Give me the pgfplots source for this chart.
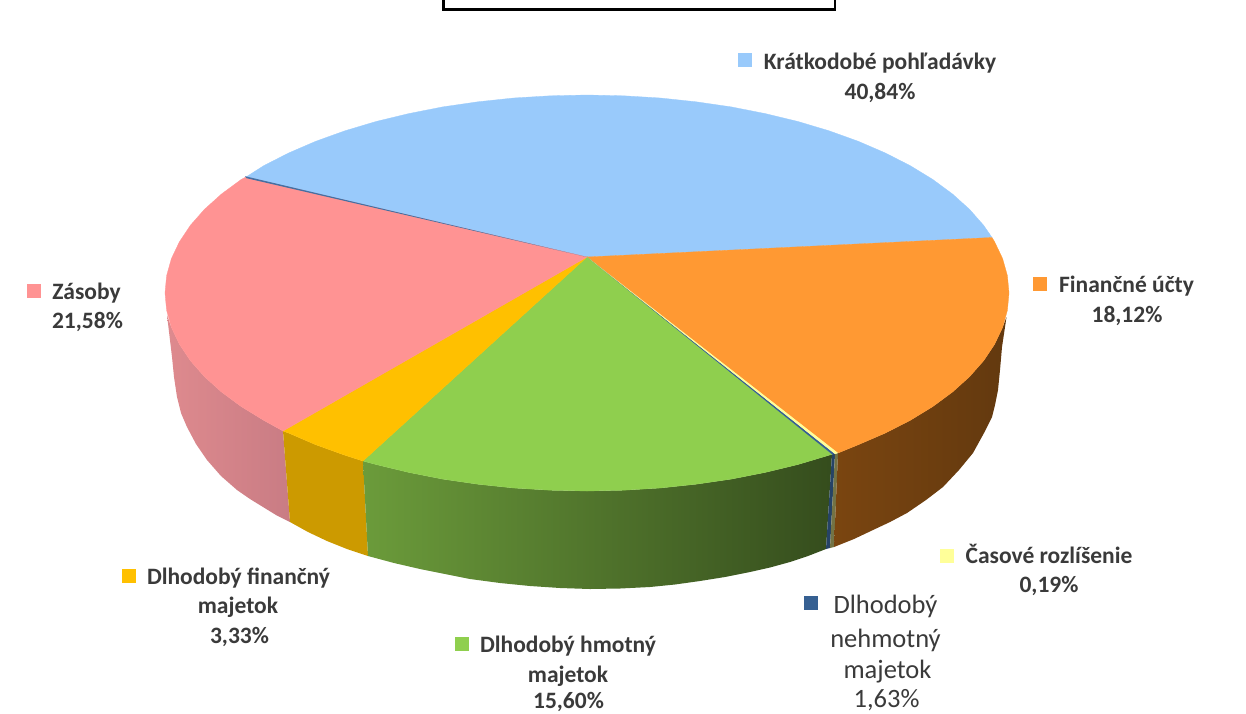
\documentclass[border=0pt]{standalone}
\usepackage{fontspec}
\setmainfont{Carlito}
\usepackage{pgfplots}
\pgfplotsset{compat=1.18}

\definecolor{cBlue}{HTML}{99CAFB}
\definecolor{cOrange}{HTML}{FF9933}
\definecolor{cPink}{HTML}{FF9393}
\definecolor{cGold}{HTML}{FFC000}
\definecolor{cGreen}{HTML}{8FCF4E}
\definecolor{cNavy}{HTML}{366092}
\definecolor{cYellow}{HTML}{FFFF99}
\definecolor{cText}{HTML}{3A3A3A}
\definecolor{sPinkL}{HTML}{DE8A8E}
\definecolor{sPinkR}{HTML}{C97C84}
\definecolor{sBrownL}{HTML}{7A4510}
\definecolor{sBrownR}{HTML}{63390F}

\tikzset{
  lab/.style={anchor=base, inner sep=0pt, text=cText, font=\fontsize{23.5}{24}\selectfont\bfseries},
  labr/.style={anchor=base, inner sep=0pt, text=cText, font=\fontsize{26.5}{27}\selectfont},
}

\begin{document}
\begin{tikzpicture}
\path[use as bounding box] (0,0) rectangle (1246pt,713pt);
\begin{axis}[
    at={(0,0)}, anchor=south west,
    scale only axis,
    width=1246pt, height=713pt,
    xmin=0, xmax=1246, ymin=0, ymax=713,
    y dir=reverse,
    hide axis,
]

% box of the title, cut by the top edge
\addplot[black, line width=2.6pt] coordinates {(443.5,-5) (443.5,9.5) (835,9.5) (835,-5)};

% side walls
\addplot[draw=none, left color=sPinkL, right color=sPinkR] coordinates {
  (167,315) (171.4,327.4) (179.4,344.2) (190.4,360.7) (204.5,376.7) (221.5,392) (241.3,406.6)
  (263.7,420.3) (283,431) (290,522) (276,515) (263,507) (250,499) (237,490) (221,476) (207,460)
  (196,444) (187,427) (181,413) (177,397) (174,377) (172,357)} -- cycle;
\addplot[fill=cGold!80!black, draw=none] coordinates {
  (283,431) (288.6,433) (315.7,444.7) (344.9,455.2) (363,461) (368,556) (347,549) (327,541) (308,532) (290,522)} -- cycle;
\addplot[draw=none, left color=cGreen!75!black, right color=cGreen!37!black] coordinates {
  (832,454.3) (829.1,455.2) (798,464.5) (765.3,472.4) (731.3,479.1) (696.2,484.2) (660.3,488) (623.8,490.2)
  (587,491) (550.2,490.2) (513.7,488) (477.8,484.2) (442.7,479.1) (408.7,472.4) (376,464.5) (363,461)
  (368,556) (394,563) (420,569) (445,574) (470,579) (500,583) (530,586) (560,588) (590,589) (620,588.5)
  (650,587) (675,584.5) (700,581) (725,577) (750,572) (770,567.5) (790,562) (808,556) (826,549)} -- cycle;
\addplot[fill=cNavy!70!black, draw=none] coordinates {(832,454.3) (835,454) (830,548) (826,549)} -- cycle;
\addplot[fill=cYellow!45!black, draw=none] coordinates {(835,454) (838,453) (834,547) (830,548)} -- cycle;
\addplot[draw=none, left color=sBrownL, right color=sBrownR] coordinates {
  (838,453) (858.3,444.7) (885.4,433) (910.3,420.3) (932.7,406.6) (952.5,392) (969.5,376.7) (983.6,360.7)
  (994.6,344.2) (1002.6,327.4) (1006.5,317) (1002,347) (1000,370) (998,390) (995,405) (992,417) (984,433)
  (973,453) (959,470) (943,487) (926,500) (907,513) (890,522) (873,530) (854,539) (834,547)} -- cycle;

% top faces
\addplot[fill=cBlue, draw=cBlue, line width=0.3pt] coordinates {
  (587,257) (246,177) (263.7,165.7) (288.6,153) (315.7,141.3) (344.9,130.8) (376,121.5) (408.7,113.6)
  (442.7,106.9) (477.8,101.8) (513.7,98) (550.2,95.8) (587,95) (623.8,95.8) (660.3,98) (696.2,101.8)
  (731.3,106.9) (765.3,113.6) (798,121.5) (829.1,130.8) (858.3,141.3) (885.4,153) (910.3,165.7)
  (932.7,179.4) (952.5,194) (969.5,209.3) (983.6,225.3) (992,237.5)} -- cycle;
\addplot[fill=cOrange, draw=cOrange, line width=0.3pt] coordinates {
  (587,257) (992,237.5) (994.6,241.8) (1002.6,258.6) (1007.4,275.7) (1009,293) (1007.4,310.3) (1002.6,327.4)
  (994.6,344.2) (983.6,360.7) (969.5,376.7) (952.5,392) (932.7,406.6) (910.3,420.3) (885.4,433)
  (858.3,444.7) (838,453)} -- cycle;
\addplot[fill=cGreen, draw=cGreen, line width=0.3pt] coordinates {
  (587,257) (832,454.3) (829.1,455.2) (798,464.5) (765.3,472.4) (731.3,479.1) (696.2,484.2) (660.3,488)
  (623.8,490.2) (587,491) (550.2,490.2) (513.7,488) (477.8,484.2) (442.7,479.1) (408.7,472.4) (376,464.5)
  (363,461)} -- cycle;
\addplot[fill=cGold, draw=cGold, line width=0.3pt] coordinates {
  (587,257) (363,461) (344.9,455.2) (315.7,444.7) (288.6,433) (283,431)} -- cycle;
\addplot[fill=cPink, draw=cPink, line width=0.3pt] coordinates {
  (587,257) (283,431) (263.7,420.3) (241.3,406.6) (221.5,392) (204.5,376.7) (190.4,360.7) (179.4,344.2)
  (171.4,327.4) (166.6,310.3) (165,293) (166.6,275.7) (171.4,258.6) (179.4,241.8) (190.4,225.3)
  (204.5,209.3) (221.5,194) (241.3,179.4) (246,177)} -- cycle;
\addplot[fill=cNavy, draw=none] coordinates {(587,257) (832,454.3) (835,454)} -- cycle;
\addplot[fill=cYellow, draw=none] coordinates {(587,257) (835,454) (838,453)} -- cycle;
\addplot[fill=cNavy!85!cBlue, draw=none] coordinates {(587,257) (245,176.2) (246.5,178.2)} -- cycle;

% legend keys
\addplot[only marks, mark=square*, mark size=6.6pt, color=cBlue] coordinates {(745,60)};
\addplot[only marks, mark=square*, mark size=6.6pt, color=cPink] coordinates {(33.5,290.5)};
\addplot[only marks, mark=square*, mark size=6.6pt, color=cOrange] coordinates {(1040,284)};
\addplot[only marks, mark=square*, mark size=6.6pt, color=cYellow] coordinates {(946.5,555.5)};
\addplot[only marks, mark=square*, mark size=6.6pt, color=cNavy] coordinates {(811,603)};
\addplot[only marks, mark=square*, mark size=6.6pt, color=cGold] coordinates {(128.5,576)};
\addplot[only marks, mark=square*, mark size=6.6pt, color=cGreen] coordinates {(462,644)};

% labels
\node[lab] at (axis cs:880,69) {Krátkodobé pohľadávky};
\node[lab] at (axis cs:880,99) {40,84\%};
\node[lab] at (axis cs:86.5,299) {Zásoby};
\node[lab] at (axis cs:87.5,328) {21,58\%};
\node[lab] at (axis cs:1126.5,292) {Finančné účty};
\node[lab] at (axis cs:1127,322) {18,12\%};
\node[lab] at (axis cs:1049,563) {Časové rozlíšenie};
\node[lab] at (axis cs:1049,592) {0,19\%};
\node[labr] at (axis cs:885.5,613) {Dlhodobý};
\node[labr] at (axis cs:885.5,647) {nehmotný};
\node[labr] at (axis cs:887.5,678) {majetok};
\node[labr] at (axis cs:886.5,707) {1,63\%};
\node[lab] at (axis cs:238.5,584) {Dlhodobý finančný};
\node[lab] at (axis cs:238,613) {majetok};
\node[lab] at (axis cs:239.5,643) {3,33\%};
\node[lab] at (axis cs:568,652) {Dlhodobý hmotný};
\node[lab] at (axis cs:568,682) {majetok};
\node[lab] at (axis cs:568.5,708) {15,60\%};

\end{axis}
\end{tikzpicture}
\end{document}
